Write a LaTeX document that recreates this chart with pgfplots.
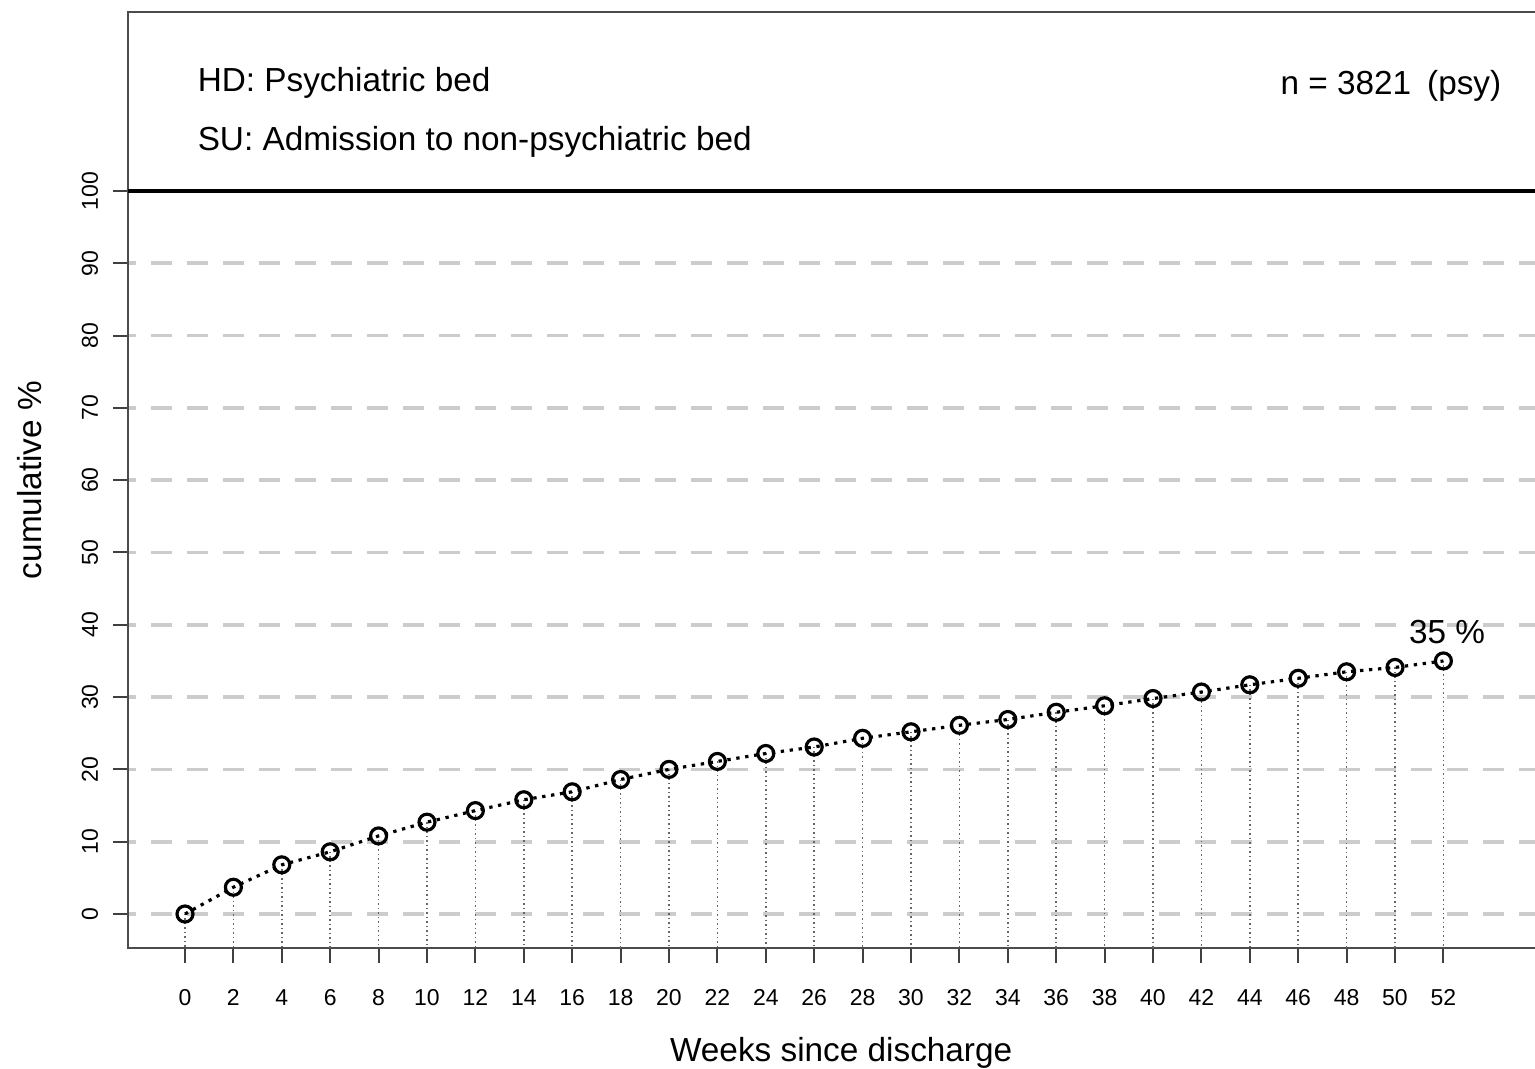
\documentclass[border=0pt]{standalone}
\usepackage{fontspec}
\setmainfont{Liberation Sans}
\usepackage{pgfplots}
\usepackage{pgfplotstable}
\pgfplotsset{compat=1.18}
\pgfplotstableread{
x y
0 0.0
2 3.7
4 6.8
6 8.6
8 10.8
10 12.7
12 14.3
14 15.8
16 16.9
18 18.6
20 20.0
22 21.1
24 22.2
26 23.1
28 24.3
30 25.2
32 26.1
34 26.9
36 27.9
38 28.8
40 29.8
42 30.7
44 31.7
46 32.6
48 33.5
50 34.1
52 35.0
}\data
\begin{document}
\begin{tikzpicture}
\begin{axis}[
  at={(0,0)}, anchor=south west,
  scale only axis,
  width=423.66pt, height=280.8pt,
  xmin=-2.355, xmax=56,
  ymin=-4.703, ymax=124.76,
  axis line style={black!70, line width=0.6pt},
  xtick={0,2,...,52},
  ytick={0,10,...,100},
  xtick pos=bottom, ytick pos=left,
  tick align=outside,
  major tick length=4.5pt,
  tick style={black!75, line width=0.6pt},
  /pgf/number format/assume math mode=true,
  ticklabel style={font=\fontsize{6.9}{8}\selectfont},
  xticklabel style={anchor=base, yshift=-12.9pt},
  yticklabel style={xshift=-4.5pt, rotate=90, anchor=base},
  ymajorgrids,
  major grid style={gray!40, line width=1.1pt, dash pattern=on 6.3pt off 4.5pt, dash phase=-7pt},
  xlabel={Weeks since discharge},
  ylabel={cumulative \%},
  label style={font=\fontsize{10}{12}\selectfont},
  xlabel style={at={(axis description cs:0.505,-0.112)}, anchor=center},
  ylabel style={at={(axis description cs:-0.0695,0.5)}, anchor=center},
]
\addplot[black, line width=1.1pt, forget plot] coordinates {(-2.355,100) (56,100)};
\addplot[draw=none, mark=none, forget plot,
  error bars/.cd, y dir=minus, y explicit, error mark=none,
  error bar style={black!60, line width=0.45pt, dash pattern=on 0.45pt off 0.9pt}]
  table[x=x, y=y, y error expr=\thisrow{y}+4.703] {\data};
\addplot[black, line width=0.95pt, dash pattern=on 1pt off 1.7pt,
  mark=o, mark size=2.4pt, mark options={solid, line width=0.95pt}]
  table[x=x, y=y] {\data};
\node[anchor=west, font=\fontsize{10}{12}\selectfont, inner sep=0pt] at (axis cs:0.5,114.9) {HD: Psychiatric bed};
\node[anchor=west, font=\fontsize{10}{12}\selectfont, inner sep=0pt] at (axis cs:0.5,106.8) {SU: Admission to non-psychiatric bed};
\node[anchor=east, font=\fontsize{10}{12}\selectfont, inner sep=0pt] at (axis cs:54.42,114.6) {n = 3821\ \hspace{0.2em}(psy)};
\node[anchor=center, font=\fontsize{10}{12}\selectfont, inner sep=0pt] at (axis cs:52.15,39.0) {35 \%};
\end{axis}
\pgfresetboundingbox
\useasboundingbox (-38.4pt,-36.3pt) rectangle (422.1pt,284.4pt);
\end{tikzpicture}
\end{document}
